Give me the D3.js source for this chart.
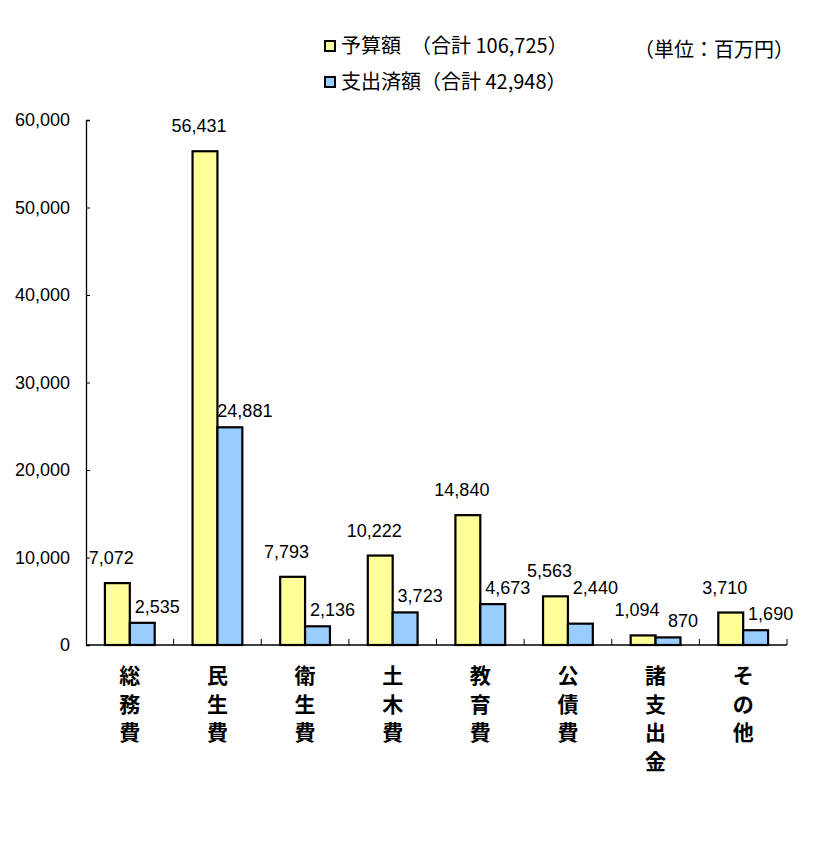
<!DOCTYPE html>
<html>
<head>
<meta charset="utf-8">
<script src="https://cdn.jsdelivr.net/npm/d3@7"></script>
<style>
	body { margin: 0; background: #fff; }
	text { font-family: "Liberation Sans", "Noto Sans CJK JP", sans-serif; }
	.cjk { font-family: "Noto Sans CJK JP", sans-serif; }
</style>
</head>
<body>
<div id="chart"></div>
<script>
// categories and the two series (単位: 百万円)
var categories = ['総務費', '民生費', '衛生費', '土木費', '教育費', '公債費', '諸支出金', 'その他'];
var budget = [7072, 56431, 7793, 10222, 14840, 5563, 1094, 3710];
var spent = [2535, 24881, 2136, 3723, 4673, 2440, 870, 1690];
var seriesNames = ['予算額　（合計 106,725）', '支出済額（合計 42,948）'];
var yTicks = [0, 10000, 20000, 30000, 40000, 50000, 60000];

var width = 835;
var height = 846;
var margin = { top: 120, left: 86, right: 48, bottom: 201 };
var colors = ['#ffff99', '#99ccff'];

var svg = d3.select('#chart')
	.append('svg')
	.attr('width', width)
	.attr('height', height);

var x = d3.scaleBand()
	.domain(categories)
	.range([margin.left, width - margin.right])
	.paddingInner(0)
	.paddingOuter(0);

var inner = d3.scaleBand()
	.domain([0, 1])
	.range([0, x.bandwidth()])
	.paddingInner(0)
	.paddingOuter(0.76);

var y = d3.scaleLinear()
	.domain([0, 60000])
	.range([height - margin.bottom, margin.top]);

var fmt = d3.format(',');

// y axis, ticks pointing inward
var yAxis = svg.append('g')
	.attr('transform', 'translate(' + margin.left + ',0)')
	.call(d3.axisLeft(y).tickValues(yTicks).tickSize(-4).tickPadding(16).tickFormat(fmt));
yAxis.selectAll('text').attr('font-size', '18px').attr('fill', '#000');
yAxis.select('.domain').attr('stroke-width', 1.3);

// bars
var groups = svg.selectAll('.cat')
	.data(categories)
	.enter()
	.append('g')
	.attr('transform', function(d) { return 'translate(' + x(d) + ',0)'; });

[budget, spent].forEach(function(series, s) {
	groups.append('rect')
		.attr('x', inner(s))
		.attr('y', function(d, i) { return y(series[i]); })
		.attr('width', inner.bandwidth())
		.attr('height', function(d, i) { return y(0) - y(series[i]); })
		.attr('fill', colors[s])
		.attr('stroke', '#000')
		.attr('stroke-width', 2.2);
});

// value labels
var budgetLabels = groups.append('text')
	.attr('x', inner(0) + inner.bandwidth() / 2 - 6)
	.attr('y', function(d, i) { return y(budget[i]) - 19; })
	.attr('text-anchor', 'middle')
	.attr('font-size', '18px')
	.text(function(d, i) { return fmt(budget[i]); });

var spentLabels = groups.append('text')
	.attr('x', inner(1) + inner.bandwidth() / 2 + 15)
	.attr('y', function(d, i) { return y(spent[i]) - 10; })
	.attr('text-anchor', 'middle')
	.attr('font-size', '18px')
	.text(function(d, i) { return fmt(spent[i]); });

// lift a blue label when it sits level with, and touches, the next category's yellow label
var bNodes = budgetLabels.nodes();
spentLabels.each(function(d, i) {
	if (i + 1 >= bNodes.length) return;
	var a = this.getBoundingClientRect();
	var b = bNodes[i + 1].getBoundingClientRect();
	var vOverlap = Math.min(a.bottom, b.bottom) - Math.max(a.top, b.top);
	if (a.right > b.left - 3 && a.left < b.right && vOverlap > 6) {
		var yy = +d3.select(this).attr('y');
		d3.select(this).attr('y', yy - (a.bottom - b.top) - 2);
	}
});

// x axis with inward ticks at category boundaries
var xAxis = svg.append('g').attr('transform', 'translate(0,' + y(0) + ')');
xAxis.append('line')
	.attr('x1', margin.left)
	.attr('x2', width - margin.right)
	.attr('stroke', '#000')
	.attr('stroke-width', 1.6);
xAxis.selectAll('.tick')
	.data(categories)
	.enter()
	.append('line')
	.attr('x1', function(d) { return x(d) + x.bandwidth(); })
	.attr('x2', function(d) { return x(d) + x.bandwidth(); })
	.attr('y1', 0)
	.attr('y2', -6)
	.attr('stroke', '#000');

// vertical category labels
groups.each(function(d) {
	var g = d3.select(this);
	Array.from(d).forEach(function(ch, k) {
		g.append('text')
			.attr('class', 'cjk')
			.attr('x', x.bandwidth() / 2)
			.attr('y', y(0) + 38 + k * 28.5)
			.attr('text-anchor', 'middle')
			.attr('font-size', '21px')
			.attr('font-weight', 'bold')
			.text(ch);
	});
});

// legend
var legend = svg.append('g').attr('transform', 'translate(325,41)');
seriesNames.forEach(function(name, s) {
	var row = legend.append('g').attr('transform', 'translate(0,' + (s * 36) + ')');
	row.append('rect')
		.attr('width', 10)
		.attr('height', 10)
		.attr('fill', colors[s])
		.attr('stroke', '#000')
		.attr('stroke-width', 2);
	row.append('text')
		.attr('class', 'cjk')
		.attr('x', 16)
		.attr('y', 12)
		.attr('font-size', '20px')
		.text(name);
});

svg.append('text')
	.attr('class', 'cjk')
	.attr('x', 794)
	.attr('y', 57)
	.attr('text-anchor', 'end')
	.attr('font-size', '20px')
	.text('（単位：百万円）');
</script>
</body>
</html>
